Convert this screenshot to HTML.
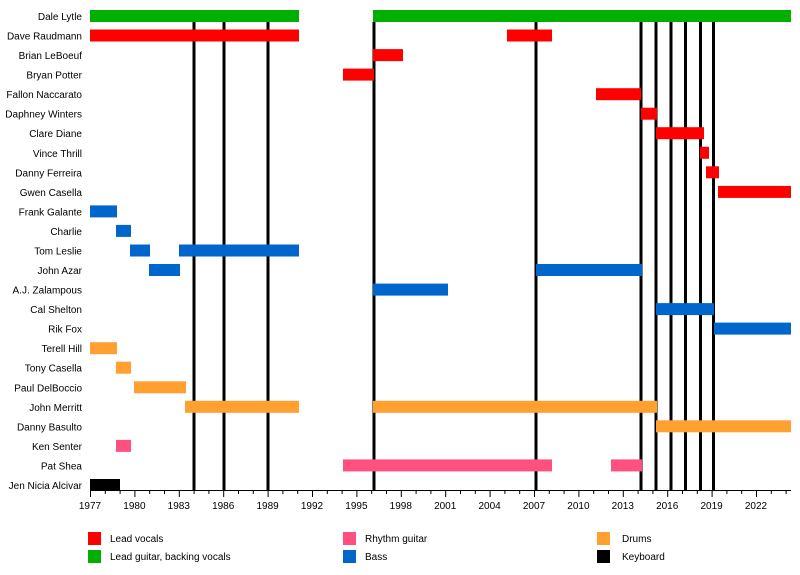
<!DOCTYPE html>
<html><head><style>body{margin:0;background:#fff}</style></head><body>
<svg width="800" height="570" xmlns="http://www.w3.org/2000/svg" font-family="Liberation Sans, Arial, sans-serif" font-size="10">
<rect width="800" height="570" fill="#fff"/>
<g fill="#000">
<rect x="192.5" y="22" width="3" height="468"/>
<rect x="222.5" y="22" width="3" height="468"/>
<rect x="266.5" y="22" width="3" height="468"/>
<rect x="372.5" y="22" width="3" height="468"/>
<rect x="534.5" y="22" width="3" height="468"/>
<rect x="639.5" y="22" width="3" height="468"/>
<rect x="654.5" y="22" width="3" height="468"/>
<rect x="669.5" y="22" width="3" height="468"/>
<rect x="684" y="22" width="3" height="468"/>
<rect x="699" y="22" width="3" height="468"/>
<rect x="712" y="22" width="3" height="468"/>
</g>
<g text-anchor="end" fill="#000">
<text x="82" y="20">Dale Lytle</text>
<text x="82" y="39.5">Dave Raudmann</text>
<text x="82" y="59.1">Brian LeBoeuf</text>
<text x="82" y="78.6">Bryan Potter</text>
<text x="82" y="98.2">Fallon Naccarato</text>
<text x="82" y="117.7">Daphney Winters</text>
<text x="82" y="137.2">Clare Diane</text>
<text x="82" y="156.8">Vince Thrill</text>
<text x="82" y="176.3">Danny Ferreira</text>
<text x="82" y="195.9">Gwen Casella</text>
<text x="82" y="215.4">Frank Galante</text>
<text x="82" y="234.9">Charlie</text>
<text x="82" y="254.5">Tom Leslie</text>
<text x="82" y="274">John Azar</text>
<text x="82" y="293.6">A.J. Zalampous</text>
<text x="82" y="313.1">Cal Shelton</text>
<text x="82" y="332.6">Rik Fox</text>
<text x="82" y="352.2">Terell Hill</text>
<text x="82" y="371.7">Tony Casella</text>
<text x="82" y="391.3">Paul DelBoccio</text>
<text x="82" y="410.8">John Merritt</text>
<text x="82" y="430.3">Danny Basulto</text>
<text x="82" y="449.9">Ken Senter</text>
<text x="82" y="469.4">Pat Shea</text>
<text x="82" y="489">Jen Nicia Alcivar</text>
</g>
<g fill="#00b000">
<rect x="90" y="10" width="209" height="12"/><rect x="373" y="10" width="418" height="12"/>
</g>
<g fill="#ff0000">
<rect x="90" y="29.5" width="209" height="12"/><rect x="507" y="29.5" width="45" height="12"/>
<rect x="373" y="49.1" width="30" height="12"/>
<rect x="343" y="68.6" width="31" height="12"/>
<rect x="596" y="88.2" width="45" height="12"/>
<rect x="641" y="107.7" width="16" height="12"/>
<rect x="656" y="127.2" width="48" height="12"/>
<rect x="700" y="146.8" width="9" height="12"/>
<rect x="706" y="166.3" width="13" height="12"/>
<rect x="718" y="185.9" width="73" height="12"/>
</g>
<g fill="#0066cc">
<rect x="90" y="205.4" width="27" height="12"/>
<rect x="116" y="224.9" width="15" height="12"/>
<rect x="130" y="244.5" width="20" height="12"/><rect x="179" y="244.5" width="120" height="12"/>
<rect x="149" y="264" width="31" height="12"/><rect x="536" y="264" width="106" height="12"/>
<rect x="373" y="283.6" width="75" height="12"/>
<rect x="656" y="303.1" width="58" height="12"/>
<rect x="714" y="322.6" width="77" height="12"/>
</g>
<g fill="#ffa030">
<rect x="90" y="342.2" width="27" height="12"/>
<rect x="116" y="361.7" width="15" height="12"/>
<rect x="134" y="381.3" width="52" height="12"/>
<rect x="185" y="400.8" width="114" height="12"/><rect x="373" y="400.8" width="284" height="12"/>
<rect x="656" y="420.3" width="135" height="12"/>
</g>
<g fill="#ff5080">
<rect x="116" y="439.9" width="15" height="12"/>
<rect x="343" y="459.4" width="209" height="12"/><rect x="611" y="459.4" width="31" height="12"/>
</g>
<rect x="90" y="479" width="30" height="12" fill="#000"/>
<line x1="90" y1="490.5" x2="791" y2="490.5" stroke="#000"/>
<path stroke="#000" fill="none" d="M90.5 490v7M134.9 490v7M179.3 490v7M223.7 490v7M268.1 490v7M312.5 490v7M356.9 490v7M401.3 490v7M445.7 490v7M490.1 490v7M534.5 490v7M578.9 490v7M623.3 490v7M667.7 490v7M712.1 490v7M756.5 490v7
M105.3 490v4M120.1 490v4M149.7 490v4M164.5 490v4M194.1 490v4M208.9 490v4M238.5 490v4M253.3 490v4M282.9 490v4M297.7 490v4M327.3 490v4M342.1 490v4M371.7 490v4M386.5 490v4M416.1 490v4M430.9 490v4M460.5 490v4M475.3 490v4M504.9 490v4M519.7 490v4M549.3 490v4M564.1 490v4M593.7 490v4M608.5 490v4M638.1 490v4M652.9 490v4M682.5 490v4M697.3 490v4M726.9 490v4M741.7 490v4M771.3 490v4M786.1 490v4"/>
<g text-anchor="middle">
<text x="90" y="509">1977</text><text x="134.4" y="509">1980</text><text x="178.8" y="509">1983</text><text x="223.2" y="509">1986</text>
<text x="267.6" y="509">1989</text><text x="312" y="509">1992</text><text x="356.4" y="509">1995</text><text x="400.8" y="509">1998</text>
<text x="445.2" y="509">2001</text><text x="489.6" y="509">2004</text><text x="534" y="509">2007</text><text x="578.4" y="509">2010</text>
<text x="622.8" y="509">2013</text><text x="667.2" y="509">2016</text><text x="711.6" y="509">2019</text><text x="756" y="509">2022</text>
</g>
<rect x="88" y="532" width="13" height="13" fill="#ff0000"/><text x="110" y="542">Lead vocals</text>
<rect x="88" y="550" width="13" height="13" fill="#00b000"/><text x="110" y="560">Lead guitar, backing vocals</text>
<rect x="343" y="532" width="13" height="13" fill="#ff5080"/><text x="365" y="542">Rhythm guitar</text>
<rect x="343" y="550" width="13" height="13" fill="#0066cc"/><text x="365" y="560">Bass</text>
<rect x="597" y="532" width="13" height="13" fill="#ffa030"/><text x="622" y="542">Drums</text>
<rect x="597" y="550" width="13" height="13" fill="#000"/><text x="622" y="560">Keyboard</text>
</svg>
</body></html>
